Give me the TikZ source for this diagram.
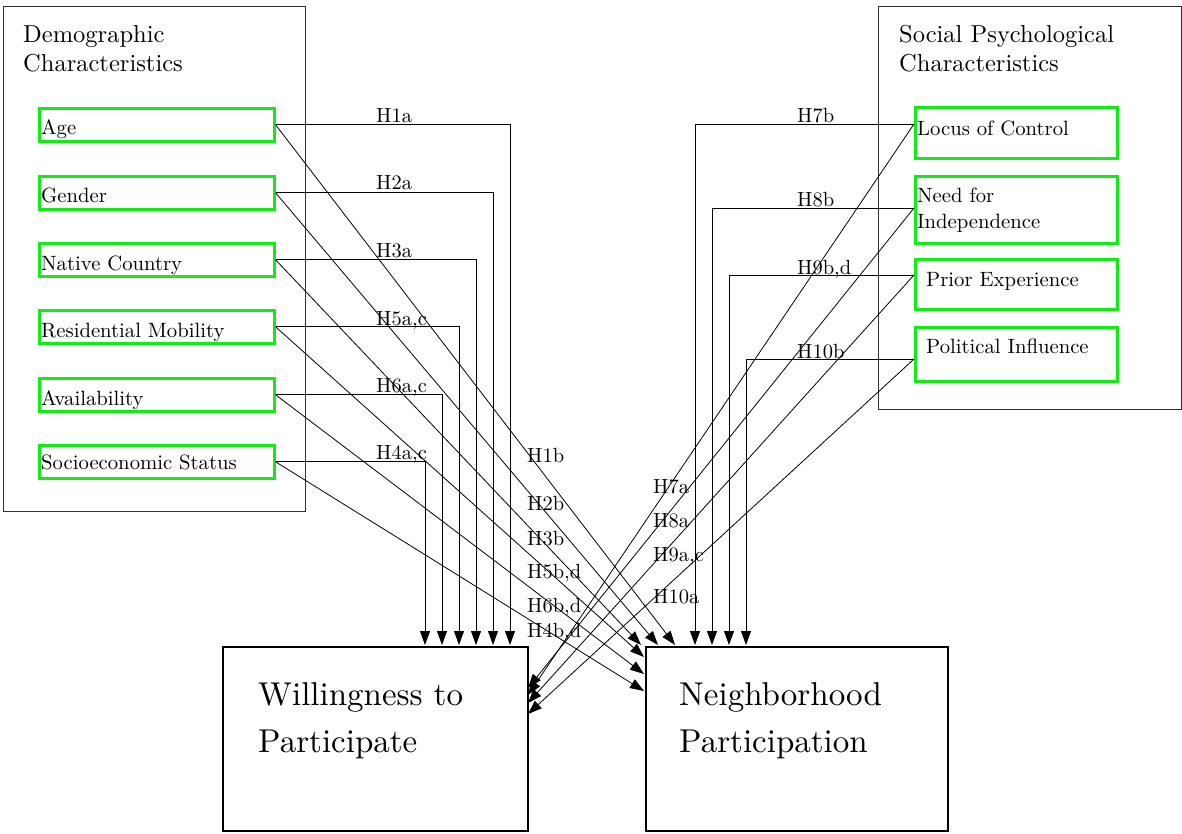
\documentclass[tikz,border=0pt]{standalone}
\usetikzlibrary{arrows.meta}
\DeclareFontFamily{TU}{lmx}{}
\DeclareFontShape{TU}{lmx}{m}{n}{<-> "[lmroman10-regular]:+tlig;"}{}
\definecolor{boxgreen}{RGB}{20,235,20}
\definecolor{framegray}{RGB}{50,50,50}
\tikzset{
  secbox/.style={draw=framegray,line width=1.1pt,inner sep=0pt,anchor=north west},
  gbox/.style={draw=boxgreen,line width=2.6pt,inner sep=0pt,anchor=north west},
  bigbox/.style={draw=black,line width=2.4pt,inner sep=0pt,anchor=north west},
  lbl/.style={inner sep=0pt,anchor=base west,font=\fontfamily{lmx}\fontsize{20.7}{25}\selectfont},
  hlbl/.style={inner sep=0pt,anchor=base west,font=\fontfamily{lmx}\fontsize{20.5}{25}\selectfont},
  ttl/.style={inner sep=0pt,anchor=base west,font=\fontfamily{lmx}\fontsize{24.5}{28}\selectfont},
  bigtxt/.style={inner sep=0pt,anchor=base west,font=\fontfamily{lmx}\fontsize{33}{46}\selectfont},
  conn/.style={draw=black,line width=0.8pt},
  arr/.style={conn,-{Triangle[length=14pt,width=10pt]}}
}
\begin{document}
\begin{tikzpicture}[x=1pt,y=-1pt]
\useasboundingbox (0,0) rectangle (1182,834);
% section boxes
\node[secbox,minimum width=302pt,minimum height=505pt] (demo) at (3,6) {};
\node[ttl] (demot1) at (23,43) {Demographic};
\node[ttl] (demot2) at (23,72) {Characteristics};
\node[secbox,minimum width=303pt,minimum height=403pt] (soc) at (878,6) {};
\node[ttl] (soct1) at (899,43) {Social Psychological};
\node[ttl] (soct2) at (899,72) {Characteristics};
% left green boxes
\node[gbox,minimum width=235pt,minimum height=33pt] (age) at (38,107) {};
\node[lbl] (agetxt) at (41,135) {Age};
\node[gbox,minimum width=235pt,minimum height=33pt] (gen) at (38,175) {};
\node[lbl] (gentxt) at (41,203) {Gender};
\node[gbox,minimum width=235pt,minimum height=33pt] (nat) at (38,242) {};
\node[lbl] (nattxt) at (41,270) {Native Country};
\node[gbox,minimum width=235pt,minimum height=33pt] (res) at (38,309) {};
\node[lbl] (restxt) at (41,337) {Residential Mobility};
\node[gbox,minimum width=235pt,minimum height=33pt] (ava) at (38,377) {};
\node[lbl] (avatxt) at (41,405) {Availability};
\node[gbox,minimum width=235pt,minimum height=33pt] (ses) at (38,444) {};
\node[lbl] (sestxt) at (41,469) {Socioeconomic Status};
% right green boxes
\node[gbox,minimum width=202pt,minimum height=51pt] (loc) at (914,106) {};
\node[lbl] (loctxt) at (917,136) {Locus of Control};
\node[gbox,minimum width=202pt,minimum height=67pt] (need) at (914,175) {};
\node[lbl] (needtxt1) at (917,203) {Need for};
\node[lbl] (needtxt2) at (917,229) {Independence};
\node[gbox,minimum width=202pt,minimum height=50pt] (pri) at (914,258) {};
\node[lbl] (pritxt) at (926,286) {Prior Experience};
\node[gbox,minimum width=202pt,minimum height=54pt] (pol) at (914,326) {};
\node[lbl] (poltxt) at (926,353) {Political Influence};
% outcome boxes
\node[bigbox,minimum width=305pt,minimum height=184pt] (wp) at (222,646) {};
\node[bigtxt] (wpt1) at (258,705) {Willingness to};
\node[bigtxt] (wpt2) at (258,752) {Participate};
\node[bigbox,minimum width=302pt,minimum height=184pt] (np) at (645,646) {};
\node[bigtxt] (npt1) at (679,705) {Neighborhood};
\node[bigtxt] (npt2) at (679,752) {Participation};
% connector end points
\coordinate (w1) at (510,645);
\coordinate (w2) at (493,645);
\coordinate (w3) at (476,645);
\coordinate (w4) at (459,645);
\coordinate (w5) at (442,645);
\coordinate (w6) at (425,645);
\coordinate (n1) at (675,645);
\coordinate (n2) at (658,645);
\coordinate (n3) at (641,645);
\coordinate (n4) at (644,657);
\coordinate (n5) at (644,674);
\coordinate (n6) at (644,691);
\coordinate (v7) at (695,645);
\coordinate (v8) at (712,645);
\coordinate (v9) at (729,645);
\coordinate (v10) at (746,645);
\coordinate (d7) at (528,695);
\coordinate (d8) at (528,688);
\coordinate (d9) at (528,703);
\coordinate (d10) at (528,714);
\coordinate (lp) at (914,124);
\coordinate (np2) at (914,208);
\coordinate (pp) at (914,275);
\coordinate (op) at (914,359);
% left connectors
\draw[arr] (age.east) -| (w1);
\draw[arr] (gen.east) -| (w2);
\draw[arr] (nat.east) -| (w3);
\draw[arr] (res.east) -| (w4);
\draw[arr] (ava.east) -| (w5);
\draw[arr] (ses.east) -| (w6);
\draw[arr] (age.east) -- (n1);
\draw[arr] (gen.east) -- (n2);
\draw[arr] (nat.east) -- (n3);
\draw[arr] (res.east) -- (n4);
\draw[arr] (ava.east) -- (n5);
\draw[arr] (ses.east) -- (n6);
% right connectors
\draw[arr] (lp) -| (v7);
\draw[arr] (np2) -| (v8);
\draw[arr] (pp) -| (v9);
\draw[arr] (op) -| (v10);
\draw[arr] (lp) -- (d7);
\draw[arr] (np2) -- (d8);
\draw[arr] (pp) -- (d9);
\draw[arr] (op) -- (d10);
% labels
\node[hlbl] (h1a) at (376,123) {H1a};
\node[hlbl] (h2a) at (376,190) {H2a};
\node[hlbl] (h3a) at (376,258) {H3a};
\node[hlbl] (h5ac) at (376,325) {H5a,c};
\node[hlbl] (h6ac) at (376,392) {H6a,c};
\node[hlbl] (h4ac) at (376,459) {H4a,c};
\node[hlbl] (h1b) at (527,462) {H1b};
\node[hlbl] (h2b) at (527,510) {H2b};
\node[hlbl] (h3b) at (527,545) {H3b};
\node[hlbl] (h5bd) at (527,578) {H5b,d};
\node[hlbl] (h6bd) at (527,612) {H6b,d};
\node[hlbl] (h4bd) at (527,637) {H4b,d};
\node[hlbl] (h7b) at (797,123) {H7b};
\node[hlbl] (h8b) at (797,207) {H8b};
\node[hlbl] (h9bd) at (797,274) {H9b,d};
\node[hlbl] (h10b) at (797,358) {H10b};
\node[hlbl] (h7a) at (653,493) {H7a};
\node[hlbl] (h8a) at (653,527) {H8a};
\node[hlbl] (h9ac) at (653,561) {H9a,c};
\node[hlbl] (h10a) at (653,603) {H10a};
\end{tikzpicture}
\end{document}
